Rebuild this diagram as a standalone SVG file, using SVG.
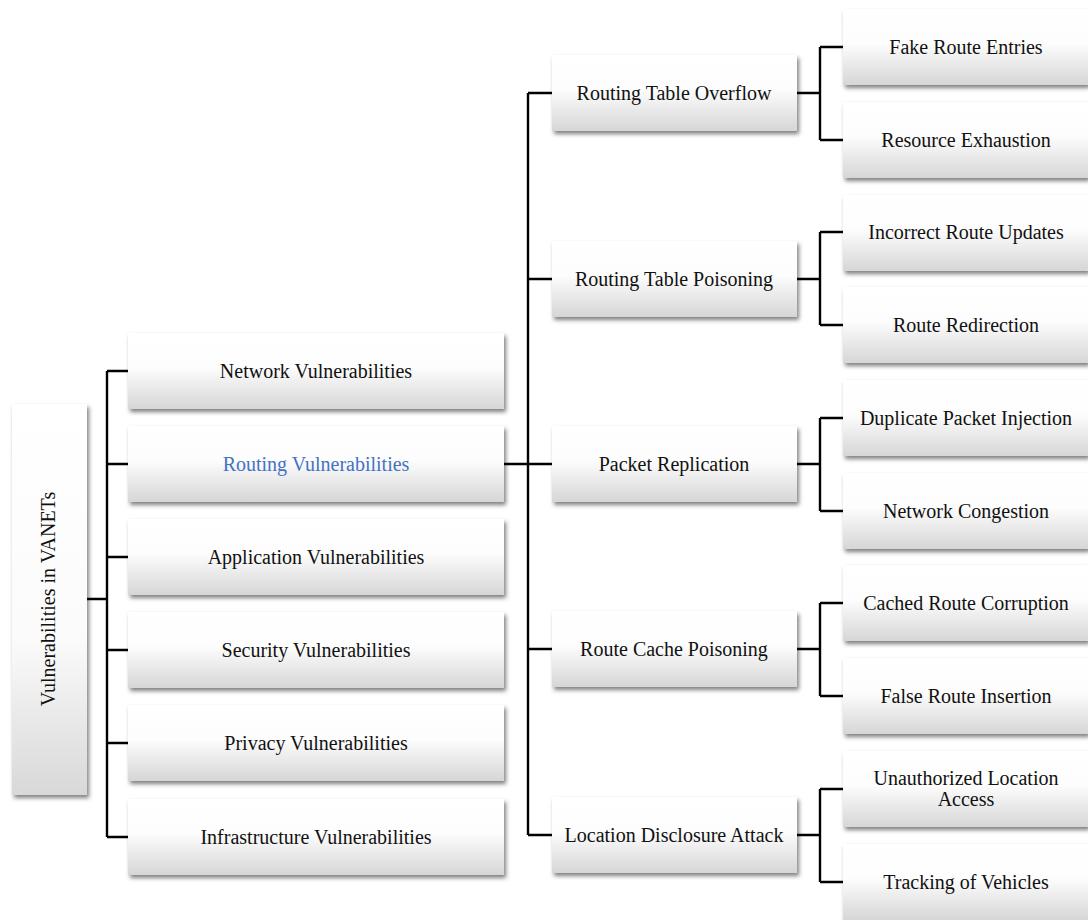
<svg xmlns="http://www.w3.org/2000/svg" width="1088" height="920" viewBox="0 0 1088 920">
  <defs>
    <linearGradient id="boxFill" x1="0" y1="0" x2="0" y2="1">
      <stop offset="0" stop-color="#ffffff"/>
      <stop offset="0.45" stop-color="#fdfdfd"/>
      <stop offset="1" stop-color="#d6d6d6"/>
    </linearGradient>
    <linearGradient id="rootFill" x1="0" y1="0" x2="0" y2="1">
      <stop offset="0" stop-color="#ffffff"/>
      <stop offset="0.6" stop-color="#fbfbfb"/>
      <stop offset="1" stop-color="#d8d8d8"/>
    </linearGradient>
    <filter id="shadow" x="-10%" y="-10%" width="125%" height="135%">
      <feDropShadow dx="2" dy="3" stdDeviation="2" flood-color="#000" flood-opacity="0.5"/>
    </filter>
  </defs>
  <style>
    .box { fill: url(#boxFill); filter: url(#shadow); }
    .root { fill: url(#rootFill); filter: url(#shadow); }
    .lbl { font-family: "Liberation Serif", "Times New Roman", serif; font-size: 20px; fill: #111; text-anchor: middle; dominant-baseline: central; }
    .hl { fill: #4472c4; }
    .wire { fill: none; stroke: #000; stroke-width: 2.4; }
  </style>
  <rect width="1088" height="920" fill="#fff"/>

  <!-- connectors -->
  <g id="connectors" class="wire">
    <!-- root to level 1 -->
    <path d="M87 599 H107 M107 371 V837 M107 371 H128 M107 464 H128 M107 557 H128 M107 650 H128 M107 743 H128 M107 837 H128"/>
    <!-- routing vulnerabilities to attacks -->
    <path d="M504 464 H528 M528 93 V835 M528 93 H552 M528 279 H552 M528 464 H552 M528 649 H552 M528 835 H552"/>
    <!-- attacks to effects -->
    <path d="M797 93 H820 M820 47 V140 M820 47 H843 M820 140 H843"/>
    <path d="M797 279 H820 M820 232 V325 M820 232 H843 M820 325 H843"/>
    <path d="M797 464 H820 M820 418 V511 M820 418 H843 M820 511 H843"/>
    <path d="M797 649 H820 M820 603 V696 M820 603 H843 M820 696 H843"/>
    <path d="M797 835 H820 M820 789 V882 M820 789 H843 M820 882 H843"/>
  </g>

  <!-- root -->
  <g id="root">
    <rect class="root" x="12" y="404" width="75" height="391"/>
    <text class="lbl" transform="translate(48 599) rotate(-90)">Vulnerabilities in VANETs</text>
  </g>

  <!-- level 1 -->
  <g id="network-vuln">
    <rect class="box" x="128" y="333" width="376" height="76"/>
    <text class="lbl" x="316" y="371">Network Vulnerabilities</text>
  </g>
  <g id="routing-vuln">
    <rect class="box" x="128" y="426" width="376" height="76"/>
    <text class="lbl hl" x="316" y="464">Routing Vulnerabilities</text>
  </g>
  <g id="application-vuln">
    <rect class="box" x="128" y="519" width="376" height="76"/>
    <text class="lbl" x="316" y="557">Application Vulnerabilities</text>
  </g>
  <g id="security-vuln">
    <rect class="box" x="128" y="612" width="376" height="76"/>
    <text class="lbl" x="316" y="650">Security Vulnerabilities</text>
  </g>
  <g id="privacy-vuln">
    <rect class="box" x="128" y="705" width="376" height="76"/>
    <text class="lbl" x="316" y="743">Privacy Vulnerabilities</text>
  </g>
  <g id="infrastructure-vuln">
    <rect class="box" x="128" y="799" width="376" height="76"/>
    <text class="lbl" x="316" y="837">Infrastructure Vulnerabilities</text>
  </g>

  <!-- level 2: routing attacks -->
  <g id="routing-table-overflow">
    <rect class="box" x="552" y="55" width="245" height="76"/>
    <text class="lbl" x="674" y="93">Routing Table Overflow</text>
  </g>
  <g id="routing-table-poisoning">
    <rect class="box" x="552" y="241" width="245" height="76"/>
    <text class="lbl" x="674" y="279">Routing Table Poisoning</text>
  </g>
  <g id="packet-replication">
    <rect class="box" x="552" y="426" width="245" height="76"/>
    <text class="lbl" x="674" y="464">Packet Replication</text>
  </g>
  <g id="route-cache-poisoning">
    <rect class="box" x="552" y="611" width="245" height="76"/>
    <text class="lbl" x="674" y="649">Route Cache Poisoning</text>
  </g>
  <g id="location-disclosure">
    <rect class="box" x="552" y="797" width="245" height="76"/>
    <text class="lbl" x="674" y="835">Location Disclosure Attack</text>
  </g>

  <!-- level 3: effects -->
  <g id="fake-route-entries">
    <rect class="box" x="843" y="9" width="245" height="76"/>
    <text class="lbl" x="966" y="47">Fake Route Entries</text>
  </g>
  <g id="resource-exhaustion">
    <rect class="box" x="843" y="102" width="245" height="76"/>
    <text class="lbl" x="966" y="140">Resource Exhaustion</text>
  </g>
  <g id="incorrect-route-updates">
    <rect class="box" x="843" y="195" width="245" height="76"/>
    <text class="lbl" x="966" y="232">Incorrect Route Updates</text>
  </g>
  <g id="route-redirection">
    <rect class="box" x="843" y="287" width="245" height="76"/>
    <text class="lbl" x="966" y="325">Route Redirection</text>
  </g>
  <g id="duplicate-packet-injection">
    <rect class="box" x="843" y="380" width="245" height="76"/>
    <text class="lbl" x="966" y="418">Duplicate Packet Injection</text>
  </g>
  <g id="network-congestion">
    <rect class="box" x="843" y="473" width="245" height="76"/>
    <text class="lbl" x="966" y="511">Network Congestion</text>
  </g>
  <g id="cached-route-corruption">
    <rect class="box" x="843" y="565" width="245" height="76"/>
    <text class="lbl" x="966" y="603">Cached Route Corruption</text>
  </g>
  <g id="false-route-insertion">
    <rect class="box" x="843" y="658" width="245" height="76"/>
    <text class="lbl" x="966" y="696">False Route Insertion</text>
  </g>
  <g id="unauthorized-location-access">
    <rect class="box" x="843" y="751" width="245" height="76"/>
    <text class="lbl" x="966" y="778">Unauthorized Location</text>
    <text class="lbl" x="966" y="799">Access</text>
  </g>
  <g id="tracking-of-vehicles">
    <rect class="box" x="843" y="844" width="245" height="76"/>
    <text class="lbl" x="966" y="882">Tracking of Vehicles</text>
  </g>
</svg>
